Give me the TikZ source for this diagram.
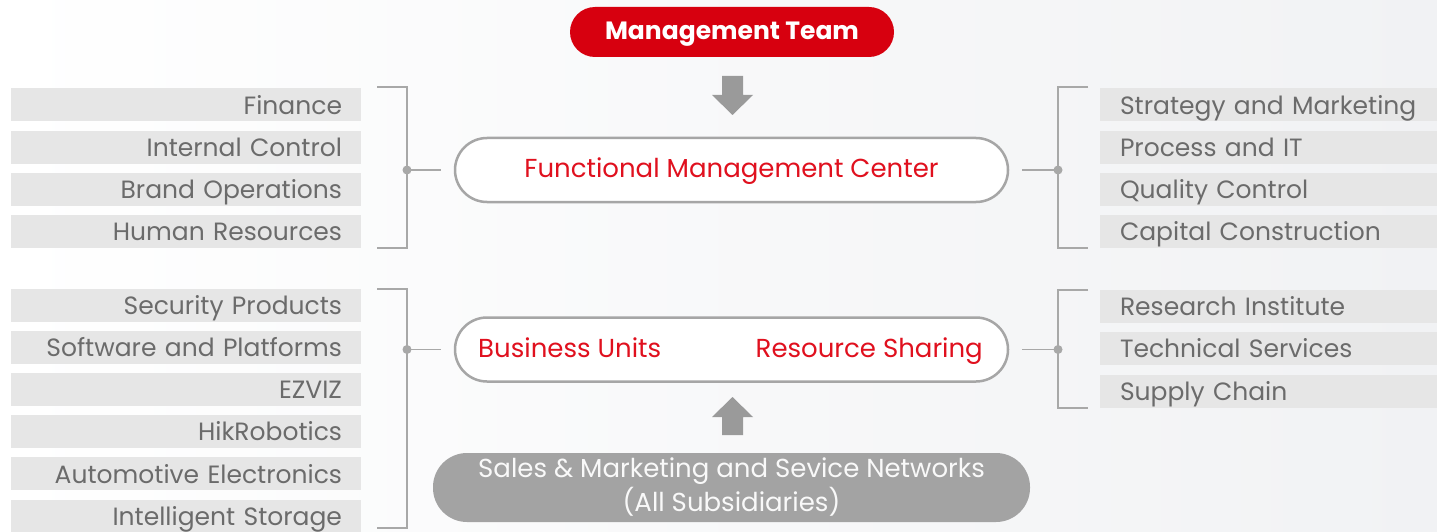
\documentclass[tikz,border=0pt]{standalone}
\usepackage{fontspec}
\setmainfont{Poppins}
\usetikzlibrary{calc}

\definecolor{boxgray}{HTML}{E6E6E6}
\definecolor{labelgray}{HTML}{6B6B6B}
\definecolor{linegray}{HTML}{A8A8A8}
\definecolor{hikred}{HTML}{D7000F}
\definecolor{redtext}{HTML}{E0101E}
\definecolor{ovalgray}{HTML}{A6A6A6}
\definecolor{arrowgray}{HTML}{9A9A9A}
\definecolor{salesgray}{HTML}{A3A3A3}
\definecolor{bggray}{HTML}{F1F2F4}

\tikzset{
  leftbox/.style={fill=boxgray, text=labelgray, inner xsep=19pt, inner ysep=0pt,
    text width=312pt, align=right, minimum height=33pt,
    text height=20pt, text depth=1.4pt,
    font=\fontsize{25}{25}\selectfont},
  rightbox/.style={fill=boxgray, text=labelgray, inner xsep=20pt, inner ysep=0pt,
    text width=297pt, align=left, minimum height=33pt,
    text height=20pt, text depth=1.4pt,
    font=\fontsize{25}{25}\selectfont},
  bracket/.style={draw=linegray, line width=1.6pt},
  oval/.style={draw=ovalgray, fill=white, line width=2.5pt, rounded corners=32pt,
    minimum width=553pt, minimum height=64pt, text=redtext,
    text height=18pt, text depth=4pt,
    font=\fontsize{26}{26}\selectfont},
  redlabel/.style={text=redtext, inner sep=0pt, font=\fontsize{26}{26}\selectfont}
}

\begin{document}
\begin{tikzpicture}[x=1pt, y=-1pt]
\useasboundingbox (0,0) rectangle (1437,532);
\shade[left color=white, right color=bggray] (0,0) rectangle (1437,532);

% top of the chart
\node[fill=hikred, text=white, rounded corners=25pt, minimum width=324pt, minimum height=50pt,
  text height=17pt, text depth=2.4pt, inner ysep=0pt,
  font=\bfseries\fontsize{25}{25}\selectfont] (mgmt) at (732,32) {Management Team};
\node[oval] (fmc) at (731.5,170) {Functional Management Center};
\node[oval] (bu) at (731.5,349.5) {};
\node[redlabel, anchor=base west] (bulabel) at (478,357) {Business Units};
\node[redlabel, anchor=base east] (rslabel) at (983,357) {Resource Sharing};
\node[fill=salesgray, text=white!95!gray, rounded corners=34pt, minimum width=597pt,
  minimum height=69pt, align=center, font=\fontsize{26}{34}\selectfont]
  (sales) at (731.5,487.5) {Sales \& Marketing and Sevice Networks\\(All Subsidiaries)};

% block arrows
\fill[arrowgray] (722,76) -- (743,76) -- (743,95) -- (753,95) -- (732.5,115)
  -- (712,95) -- (722,95) -- cycle;
\fill[arrowgray] (722,435) -- (743,435) -- (743,417) -- (753,417) -- (732.5,397)
  -- (712,417) -- (722,417) -- cycle;

% left groups
\foreach \txt [count=\i] in {Finance, Internal Control, Brand Operations, Human Resources}
  \node[leftbox] (lt\i) at (186,{105+42.2*(\i-1)}) {\txt};
\foreach \txt [count=\i] in {Security Products, Software and Platforms, EZVIZ, HikRobotics,
  Automotive Electronics, Intelligent Storage}
  \node[leftbox] (lb\i) at (186,{305+42.2*(\i-1)}) {\txt};

% right groups
\foreach \txt [count=\i] in {Strategy and Marketing, Process and IT, Quality Control,
  Capital Construction}
  \node[rightbox] (rt\i) at (1268.5,{105+42.2*(\i-1)}) {\txt};
\foreach \txt [count=\i] in {Research Institute, Technical Services, Supply Chain}
  \node[rightbox] (rb\i) at (1268.5,{306+42.5*(\i-1)}) {\txt};

% brackets
\draw[bracket] (377,87) -- (407,87) -- (407,248) -- (377,248);
\draw[bracket] (377,289) -- (407,289) -- (407,528) -- (377,528);
\draw[bracket] (1088,87) -- (1058,87) -- (1058,248) -- (1088,248);
\draw[bracket] (1088,290) -- (1058,290) -- (1058,408) -- (1088,408);

\coordinate (ldot1) at (407,170);
\coordinate (ldot2) at (407,349.5);
\coordinate (rdot1) at (1058,170);
\coordinate (rdot2) at (1058,349.5);
\foreach \d in {ldot1, ldot2, rdot1, rdot2}
  \fill[linegray] (\d) circle (4.5);
\draw[bracket, shorten >=13pt] (ldot1) -- (fmc.west);
\draw[bracket, shorten >=13pt] (ldot2) -- (bu.west);
\draw[bracket, shorten >=13pt] (rdot1) -- (fmc.east);
\draw[bracket, shorten >=13pt] (rdot2) -- (bu.east);
\end{tikzpicture}
\end{document}
